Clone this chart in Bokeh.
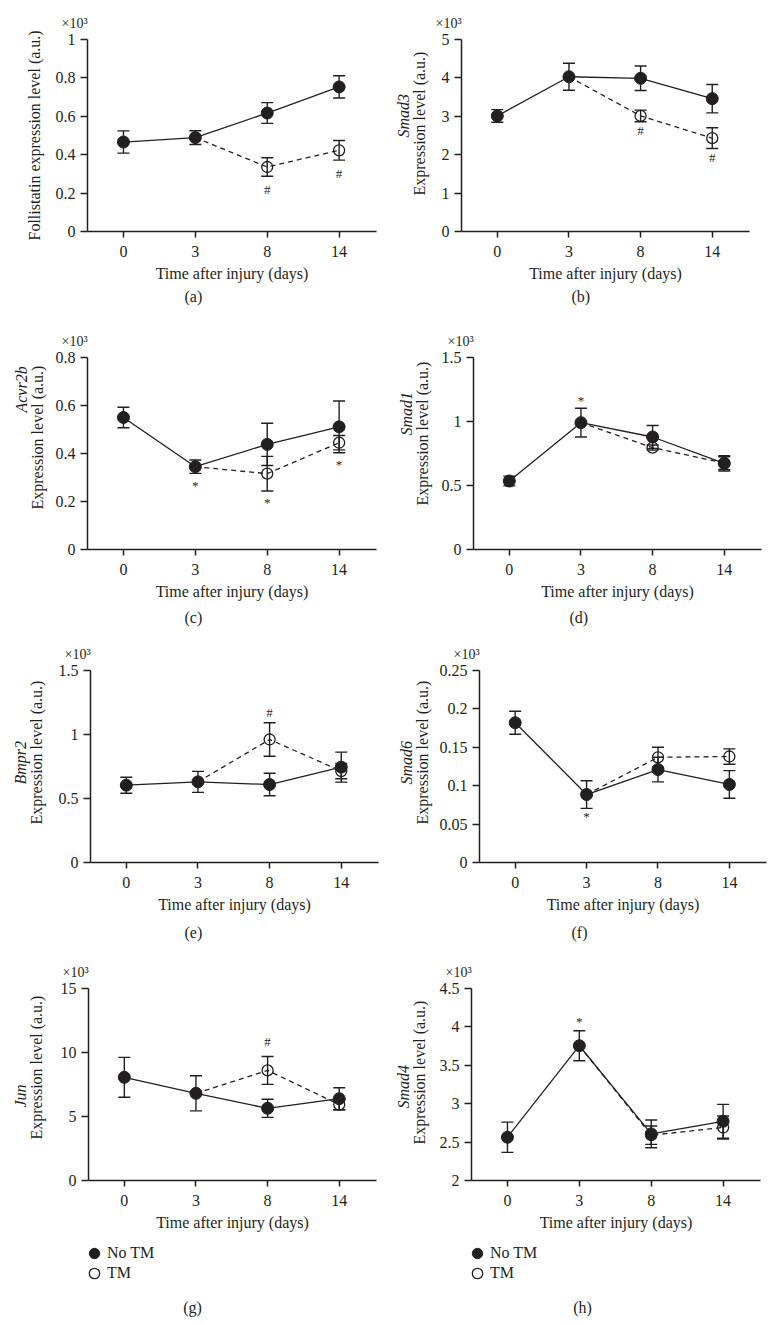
from bokeh.plotting import figure
from bokeh.models import (Range1d, FixedTicker, Whisker, TeeHead, ColumnDataSource,
                          Label, Legend, LegendItem, Title)
from bokeh.layouts import column, row
from bokeh.embed import file_html
from bokeh.resources import INLINE

# ---------------- data ----------------
days = ["0", "3", "8", "14"]
tm_days = ["8", "14"]

# (a) Follistatin
fst_no_tm = [0.466, 0.489, 0.617, 0.753]
fst_no_tm_err = [0.058, 0.036, 0.054, 0.058]
fst_tm = [0.336, 0.423]
fst_tm_err = [0.048, 0.051]
fst_yticks = [0, 0.2, 0.4, 0.6, 0.8, 1]

# (b) Smad3
smad3_no_tm = [3.01, 4.03, 3.99, 3.46]
smad3_no_tm_err = [0.165, 0.35, 0.32, 0.37]
smad3_tm = [3.01, 2.43]
smad3_tm_err = [0.15, 0.27]
smad3_yticks = [0, 1, 2, 3, 4, 5]

# (c) Acvr2b
acvr2b_no_tm = [0.550, 0.345, 0.438, 0.511]
acvr2b_no_tm_err = [0.043, 0.028, 0.088, 0.108]
acvr2b_tm = [0.316, 0.445]
acvr2b_tm_err = [0.072, 0.03]
acvr2b_yticks = [0, 0.2, 0.4, 0.6, 0.8]

# (d) Smad1
smad1_no_tm = [0.535, 0.991, 0.879, 0.673]
smad1_no_tm_err = [0.038, 0.112, 0.09, 0.06]
smad1_tm = [0.796, 0.675]
smad1_tm_err = [0.02, 0.05]
smad1_yticks = [0, 0.5, 1, 1.5]

# (e) Bmpr2
bmpr2_no_tm = [0.604, 0.630, 0.609, 0.745]
bmpr2_no_tm_err = [0.0625, 0.082, 0.088, 0.117]
bmpr2_tm = [0.961, 0.714]
bmpr2_tm_err = [0.131, 0.06]
bmpr2_yticks = [0, 0.5, 1, 1.5]

# (f) Smad6
smad6_no_tm = [0.182, 0.0885, 0.121, 0.1016]
smad6_no_tm_err = [0.015, 0.018, 0.016, 0.018]
smad6_tm = [0.137, 0.138]
smad6_tm_err = [0.013, 0.01]
smad6_yticks = [0, 0.05, 0.1, 0.15, 0.2, 0.25]

# (g) Jun
jun_no_tm = [8.06, 6.81, 5.64, 6.39]
jun_no_tm_err = [1.56, 1.37, 0.71, 0.86]
jun_tm = [8.60, 5.93]
jun_tm_err = [1.09, 0.4]
jun_yticks = [0, 5, 10, 15]

# (h) Smad4
smad4_no_tm = [2.563, 3.755, 2.607, 2.771]
smad4_no_tm_err = [0.197, 0.195, 0.18, 0.22]
smad4_tm = [2.59, 2.69]
smad4_tm_err = [0.12, 0.15]
smad4_yticks = [2, 2.5, 3, 3.5, 4, 4.5]

legend_labels = ["No TM", "TM"]

# significance marks: (series, day, symbol, side)
fst_marks = [("tm", "8", "#", "below"), ("tm", "14", "#", "below")]
smad3_marks = [("tm", "8", "#", "below"), ("tm", "14", "#", "below")]
acvr2b_marks = [("no", "3", "*", "below"), ("tm", "8", "*", "below"), ("no", "14", "*", "below")]
smad1_marks = [("no", "3", "*", "above")]
bmpr2_marks = [("tm", "8", "#", "above")]
smad6_marks = [("no", "3", "*", "below")]
jun_marks = [("tm", "8", "#", "above")]
smad4_marks = [("no", "3", "*", "above")]

# ---------------- layout / style ----------------
DARK = "#231f20"
FONT = "Liberation Serif"
ROW_H = [321, 313, 318, 288]
ROW_TOP = [39, 36, 36, 36]
FRAME_H = 192
LEGEND_H = 82
COL_ORIGIN = [0, 385]
COL_W = [385, 390]
XAXIS_H = 53         # height of the x axis panel (ticks + labels + title)
LINE_GAP = 17        # distance between the two y-title lines


def est_w(s, size=16):
    # rough Times-like advance widths for tick labels
    return sum((0.5 if c.isdigit() else 0.25) for c in s) * size


panels = [
    dict(letter="(a)", gene_text=None, title="Follistatin expression level (a.u.)", title_len=210,
         no=fst_no_tm, no_err=fst_no_tm_err, tm=fst_tm, tm_err=fst_tm_err,
         yticks=fst_yticks, marks=fst_marks,
         frame=(87, 376), exp=(52, 0), gene=None, letter_x=193, letter_dy=66, mark_off=13),
    dict(letter="(b)", gene_text="Smad3", title="Expression level (a.u.)", title_len=144,
         no=smad3_no_tm, no_err=smad3_no_tm_err, tm=smad3_tm, tm_err=smad3_tm_err,
         yticks=smad3_yticks, marks=smad3_marks,
         frame=(461, 749), exp=(41, -12), gene=(-8, 44), letter_x=580, letter_dy=66, mark_off=9),
    dict(letter="(c)", gene_text="Acvr2b", title="Expression level (a.u.)", title_len=144,
         no=acvr2b_no_tm, no_err=acvr2b_no_tm_err, tm=acvr2b_tm, tm_err=acvr2b_tm_err,
         yticks=acvr2b_yticks, marks=acvr2b_marks,
         frame=(87, 376), exp=(49, -16), gene=(-48, 46), letter_x=193, letter_dy=69, mark_off=12),
    dict(letter="(d)", gene_text="Smad1", title="Expression level (a.u.)", title_len=144,
         no=smad1_no_tm, no_err=smad1_no_tm_err, tm=smad1_tm, tm_err=smad1_tm_err,
         yticks=smad1_yticks, marks=smad1_marks,
         frame=(473, 761), exp=(50, -20), gene=(-20, 44), letter_x=578, letter_dy=69, mark_off=8),
    dict(letter="(e)", gene_text="Bmpr2", title="Expression level (a.u.)", title_len=144,
         no=bmpr2_no_tm, no_err=bmpr2_no_tm_err, tm=bmpr2_tm, tm_err=bmpr2_tm_err,
         yticks=bmpr2_yticks, marks=bmpr2_marks,
         frame=(90, 378), exp=(53, -14), gene=(10, 44), letter_x=193, letter_dy=71, mark_off=10),
    dict(letter="(f)", gene_text="Smad6", title="Expression level (a.u.)", title_len=144,
         no=smad6_no_tm, no_err=smad6_no_tm_err, tm=smad6_tm, tm_err=smad6_tm_err,
         yticks=smad6_yticks, marks=smad6_marks,
         frame=(479, 766), exp=(56, -14), gene=(10, 44), letter_x=580, letter_dy=71, mark_off=8),
    dict(letter="(g)", gene_text="Jun", title="Expression level (a.u.)", title_len=144,
         no=jun_no_tm, no_err=jun_no_tm_err, tm=jun_tm, tm_err=jun_tm_err,
         yticks=jun_yticks, marks=jun_marks,
         frame=(88, 376), exp=(51, -17), gene=(28, 24), letter_x=192, letter_dy=127, mark_off=15,
         legend=True),
    dict(letter="(h)", gene_text="Smad4", title="Expression level (a.u.)", title_len=144,
         no=smad4_no_tm, no_err=smad4_no_tm_err, tm=smad4_tm, tm_err=smad4_tm_err,
         yticks=smad4_yticks, marks=smad4_marks,
         frame=(471, 760), exp=(51, -12), gene=(14, 44), letter_x=582, letter_dy=127, mark_off=9,
         legend=True),
]


def side_title(text, **kw):
    base = dict(text_font=FONT, text_font_size="16px", text_font_style="normal",
                text_color=DARK)
    base.update(kw)
    return Title(text=text, **base)


def make_panel(spec, col, r):
    row_h, top = ROW_H[r], ROW_TOP[r]
    fl, fr = spec["frame"]
    fw = fr - fl
    width, origin = COL_W[col], COL_ORIGIN[col]
    mbl = fl - origin
    mbr = width - mbl - fw
    yt = spec["yticks"]
    p = figure(width=width, height=row_h, title=None,
               min_border_left=mbl, min_border_right=mbr,
               min_border_top=top, min_border_bottom=row_h - top - FRAME_H,
               x_range=Range1d(-0.5, 3.52), y_range=Range1d(yt[0], yt[-1]),
               output_backend="svg", toolbar_location=None, tools="")
    p.outline_line_color = None
    p.xgrid.visible = False
    p.ygrid.visible = False

    # axes
    xi = list(range(len(days)))
    p.xaxis.ticker = FixedTicker(ticks=xi)
    p.xaxis.major_label_overrides = {i: d for i, d in zip(xi, days)}
    p.yaxis.ticker = FixedTicker(ticks=yt)
    ylabels = {t: f"{t:g}" for t in yt}
    p.yaxis.major_label_overrides = ylabels
    for ax in (p.xaxis[0], p.yaxis[0]):
        ax.axis_line_color = DARK
        ax.axis_line_width = 1.5
        ax.major_tick_line_color = DARK
        ax.major_tick_line_width = 1.5
        ax.major_tick_in = 0
        ax.minor_tick_line_color = None
        ax.major_label_text_font = FONT
        ax.major_label_text_font_size = "16px"
        ax.major_label_text_color = DARK
    p.xaxis.major_tick_out = 6
    p.yaxis.major_tick_out = 7
    p.xaxis.major_label_standoff = 8
    p.yaxis.major_label_standoff = 5
    p.xaxis.axis_label = "Time after injury (days)"
    p.xaxis.axis_label_text_font = FONT
    p.xaxis.axis_label_text_font_size = "16px"
    p.xaxis.axis_label_text_font_style = "normal"
    p.xaxis.axis_label_text_color = DARK
    p.xaxis.axis_label_standoff = 5

    # data
    no, no_err, tm, tm_err = spec["no"], spec["no_err"], spec["tm"], spec["tm_err"]
    tm_idx = [days.index(d) for d in tm_days]
    src_no = ColumnDataSource(dict(x=xi, y=no,
                                   lo=[v - e for v, e in zip(no, no_err)],
                                   hi=[v + e for v, e in zip(no, no_err)]))
    src_tm = ColumnDataSource(dict(x=tm_idx, y=tm,
                                   lo=[v - e for v, e in zip(tm, tm_err)],
                                   hi=[v + e for v, e in zip(tm, tm_err)]))
    p.line([1] + tm_idx, [no[1]] + tm, line_color=DARK, line_width=1.3, line_dash="5 4")
    p.line(xi, no, line_color=DARK, line_width=1.3)
    for src in (src_no, src_tm):
        w = Whisker(base="x", lower="lo", upper="hi", source=src, dimension="height",
                    line_color=DARK, line_width=1.4,
                    lower_head=TeeHead(size=12, line_color=DARK, line_width=1.4),
                    upper_head=TeeHead(size=12, line_color=DARK, line_width=1.4))
        p.add_layout(w)
    p.scatter("x", "y", source=src_no, marker="circle", size=12,
              fill_color=DARK, line_color=DARK)
    p.scatter("x", "y", source=src_tm, marker="circle", size=11,
              fill_alpha=0, line_color=DARK, line_width=1.3)

    # significance marks (inside the frame)
    for series, day, sym, side in spec["marks"]:
        i = days.index(day)
        if series == "no":
            v, e = no[i], no_err[i]
        else:
            j = tm_days.index(day)
            v, e = tm[j], tm_err[j]
        if side == "below":
            y, off = v - e, -spec["mark_off"]
        else:
            y, off = v + e, spec["mark_off"]
        p.add_layout(Label(x=i, y=y, y_offset=off, text=sym, text_align="center",
                           text_baseline="middle", text_font=FONT, text_font_size="13px",
                           text_color=DARK))

    # y titles as side-panel titles (left); a title's text sits centred in its panel
    axis_w = 7 + 5 + max(est_w(s) for s in ylabels.values())
    ex, dy = spec["exp"]
    s_e = int(round(2 * (ex - axis_w - 10)))
    p.add_layout(side_title(spec["title"], align="left",
                            offset=FRAME_H / 2 - dy - spec["title_len"] / 2,
                            standoff=s_e), "left")
    if spec.get("gene"):
        rel, glen = spec["gene"]
        gdy = dy + rel
        start_g = axis_w + 20 + s_e
        s_g = int(round(2 * (ex + LINE_GAP - start_g - 10)))
        p.add_layout(side_title(spec["gene_text"], align="left",
                                offset=FRAME_H / 2 - gdy - glen / 2,
                                standoff=s_g, text_font_style="italic"), "left")

    # x10^3 multiplier above the y axis
    p.add_layout(side_title("×10³", align="left", offset=-26, standoff=18,
                            text_font_size="14px"), "above")

    # panel letter under the x axis (for g/h it sits in the legend strip)
    if not spec.get("legend"):
        s_l = int(round(2 * (spec["letter_dy"] - XAXIS_H - 10)))
        p.add_layout(side_title(spec["letter"], align="left", vertical_align="top",
                                offset=spec["letter_x"] - fl - 9, standoff=s_l), "below")
    return p


def make_legend_strip(spec, col):
    width, origin = COL_W[col], COL_ORIGIN[col]
    fl = spec["frame"][0]
    lf = figure(width=width, height=LEGEND_H, title=None,
                x_range=Range1d(0, width), y_range=Range1d(0, LEGEND_H),
                x_axis_type=None, y_axis_type=None,
                min_border_left=0, min_border_right=0, min_border_top=0, min_border_bottom=0,
                output_backend="svg", toolbar_location=None, tools="")
    lf.outline_line_color = None
    # proxy renderers for the legend keys (their single point lies outside the view)
    r_no = lf.scatter(x=[-50], y=[-50], marker="circle", size=12,
                      fill_color=DARK, line_color=DARK)
    r_tm = lf.scatter(x=[-50], y=[-50], marker="circle", size=11, fill_alpha=0,
                      line_color=DARK, line_width=1.3)
    glyph_x = fl + 6 - origin - 13
    for k, (lab, rd) in enumerate(zip(legend_labels, (r_no, r_tm))):
        leg = Legend(items=[LegendItem(label=lab, renderers=[rd])],
                     location=(glyph_x, LEGEND_H - 26 - 20 * k),
                     glyph_width=26, glyph_height=26, label_height=26,
                     label_standoff=0, padding=0, margin=0, spacing=0,
                     background_fill_alpha=0, border_line_color=None,
                     label_text_font=FONT, label_text_font_size="16px",
                     label_text_color=DARK)
        lf.add_layout(leg)
    # panel letter
    letter_from_top = spec["letter_dy"] - (ROW_H[3] - ROW_TOP[3] - FRAME_H)
    lf.add_layout(Label(x=spec["letter_x"] - origin, y=LEGEND_H - letter_from_top,
                        text=spec["letter"], text_align="center", text_baseline="middle",
                        text_font=FONT, text_font_size="16px", text_color=DARK))
    return lf


figs = [make_panel(spec, n % 2, n // 2) for n, spec in enumerate(panels)]
strips = [make_legend_strip(panels[6], 0), make_legend_strip(panels[7], 1)]
layout = column(*[row(figs[2 * r], figs[2 * r + 1]) for r in range(4)],
                row(strips[0], strips[1]))
open("out.html", "w").write(file_html(layout, INLINE, title="Expression levels"))
